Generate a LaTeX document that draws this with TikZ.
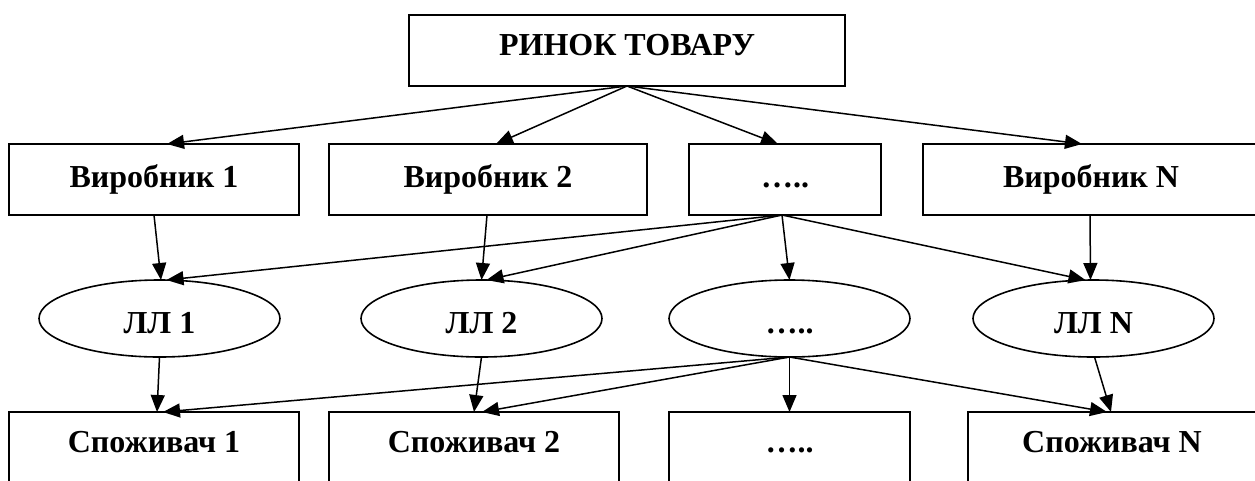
\documentclass[tikz,border=0pt]{standalone}
\usepackage{fontspec}
\setmainfont{Liberation Serif}
\usetikzlibrary{shapes.geometric,arrows.meta}
\begin{document}
\begin{tikzpicture}[x=1pt,y=-1pt,
  lbl/.style={font=\fontsize{32}{38}\selectfont\bfseries,text depth=0pt},
  box/.style={lbl,draw,line width=1.6pt,rectangle,inner sep=0pt,outer sep=0pt,minimum height=71pt},
  oval/.style={lbl,draw,line width=1.6pt,ellipse,inner sep=0pt,outer sep=0pt,minimum width=241pt,minimum height=77pt,text height=29pt},
  conn/.style={line width=1.5pt,-{Triangle[length=17pt,width=14pt]}}]
\useasboundingbox (0,0) rectangle (1255,480);
% top
\node[box,minimum width=436pt,text height=9pt] (top) at (627,50.5) {РИНОК ТОВАРУ};
% producers
\node[box,minimum width=290pt,text height=15pt] (v1) at (154,179.5) {Виробник 1};
\node[box,minimum width=318pt,text height=15pt] (v2) at (488,179.5) {Виробник 2};
\node[box,minimum width=192pt,text height=15pt] (v3) at (785,179.5) {…..};
\node[box,minimum width=336pt,text height=15pt] (v4) at (1091,179.5) {Виробник N};
% intermediaries
\node[oval] (l1) at (159.5,318.5) {ЛЛ 1};
\node[oval] (l2) at (481.5,318.5) {ЛЛ 2};
\node[oval] (l3) at (789.5,318.5) {…..};
\node[oval] (l4) at (1093.5,318.5) {ЛЛ N};
% consumers
\node[box,minimum width=290pt,text height=9pt] (s1) at (154,447.5) {Споживач 1};
\node[box,minimum width=290pt,text height=9pt] (s2) at (474,447.5) {Споживач 2};
\node[box,minimum width=241pt,text height=9pt] (s3) at (789.5,447.5) {…..};
\node[box,minimum width=288pt,text height=9pt] (s4) at (1112,447.5) {Споживач N};
% top -> producers
\draw[conn] (top.south) -- ([xshift=13pt]v1.north);
\draw[conn] (top.south) -- ([xshift=8pt]v2.north);
\draw[conn] (top.south) -- ([xshift=-7pt]v3.north);
\draw[conn] (top.south) -- ([xshift=-9pt]v4.north);
% producers -> intermediaries
\draw[conn] (v1.south) -- ([xshift=1.5pt]l1.north);
\draw[conn] ([xshift=-1pt]v2.south) -- (l2.north);
\draw[conn] ([xshift=-3pt]v3.south) -- ([xshift=7pt]l1.north);
\draw[conn] ([xshift=-3pt]v3.south) -- ([xshift=5pt]l2.north);
\draw[conn] ([xshift=-3pt]v3.south) -- (l3.north);
\draw[conn] ([xshift=-3pt]v3.south) -- ([xshift=-8pt]l4.north);
\draw[conn] ([xshift=-1pt]v4.south) -- ([xshift=-3pt]l4.north);
% intermediaries -> consumers
\draw[conn] (l1.south) -- ([xshift=3pt]s1.north);
\draw[conn] (l2.south) -- (s2.north);
\draw[conn] (l3.south) -- ([xshift=9pt]s1.north);
\draw[conn] (l3.south) -- ([xshift=8pt]s2.north);
\draw[conn] (l3.south) -- (s3.north);
\draw[conn] (l3.south) -- ([xshift=-5pt]s4.north);
\draw[conn] ([xshift=1pt]l4.south) -- ([xshift=-1pt]s4.north);
\end{tikzpicture}
\end{document}
